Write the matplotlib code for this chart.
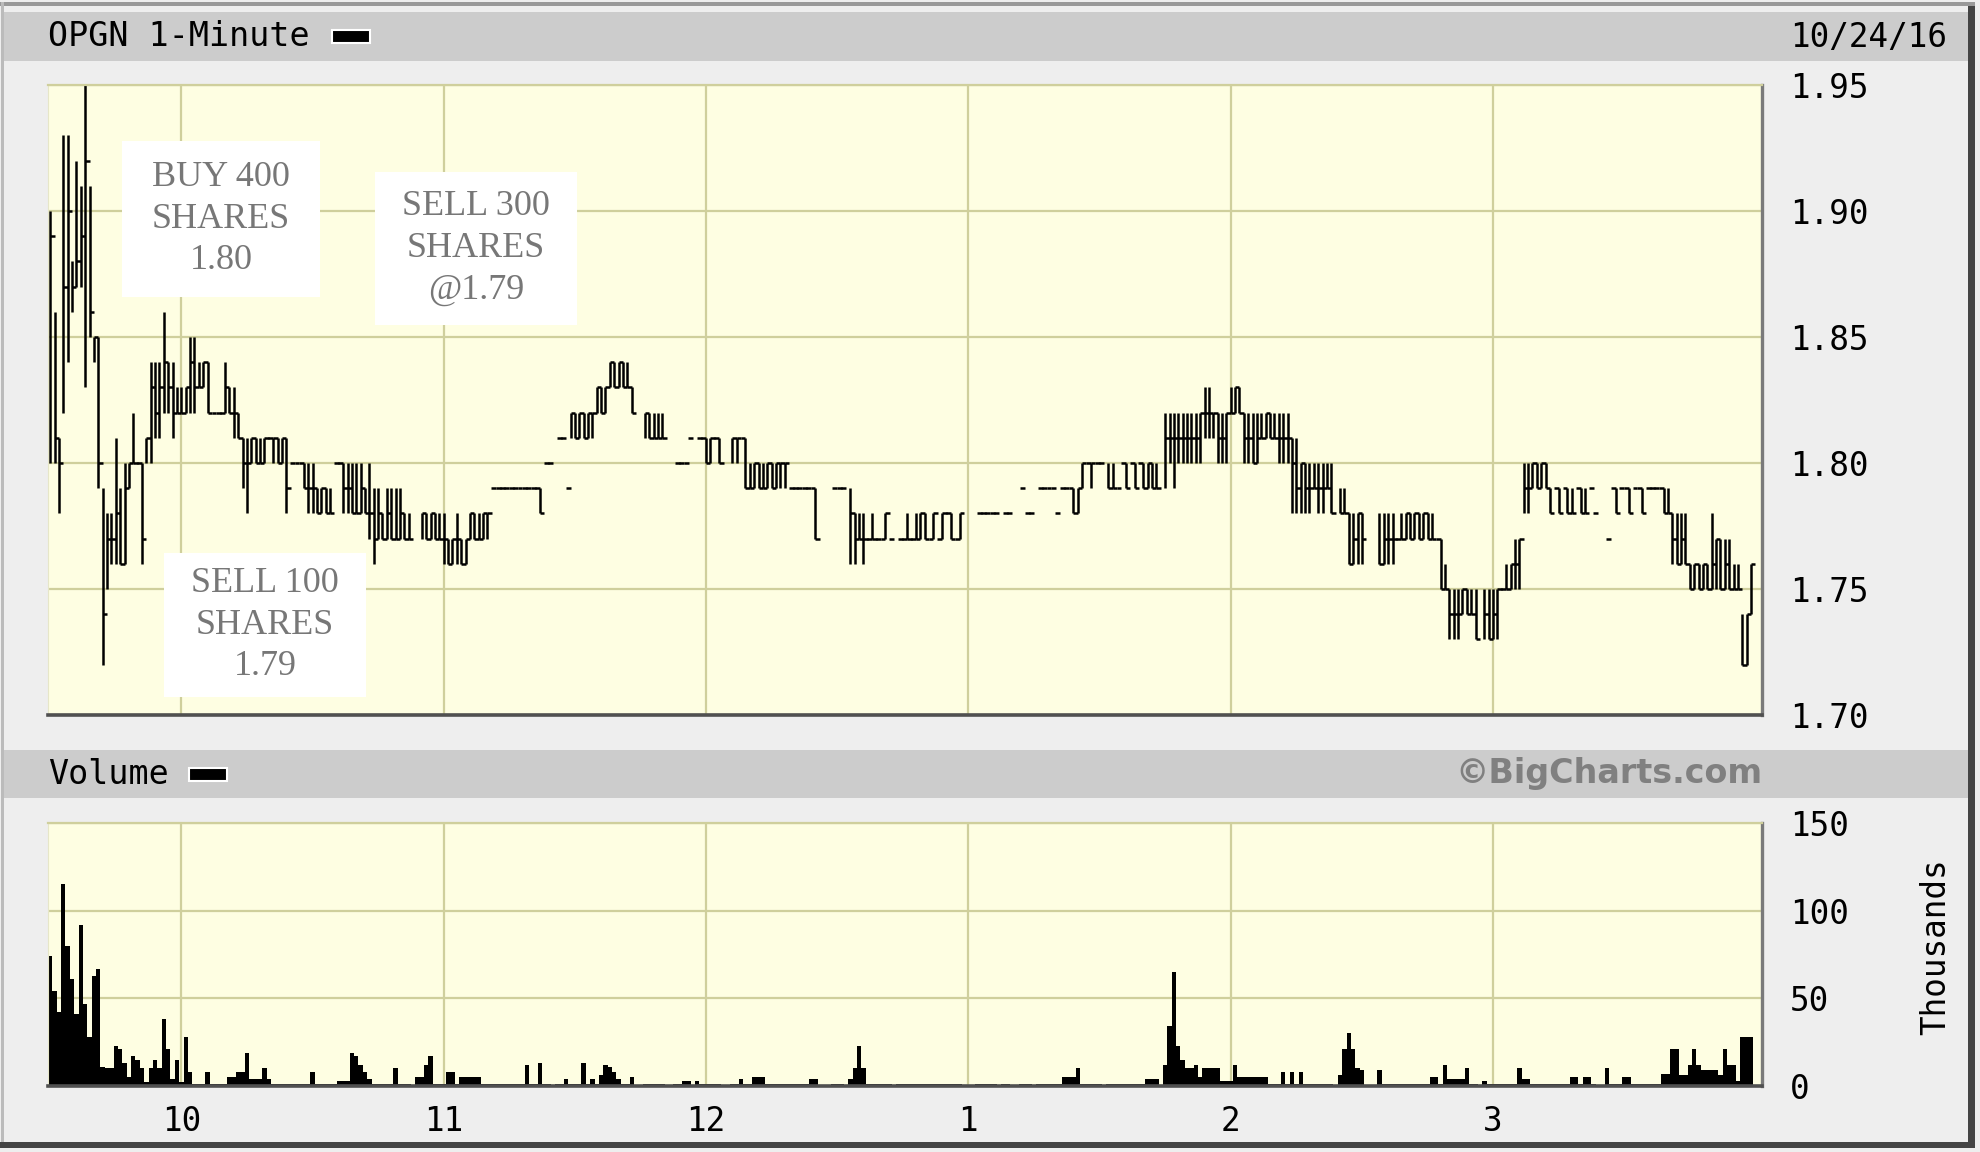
import matplotlib
matplotlib.use("Agg")
import matplotlib.pyplot as plt
from matplotlib.patches import Rectangle
from matplotlib.collections import LineCollection

# OPGN 1-minute bars, 9:30 .. 15:59, prices in cents (0 = no trade that minute)
high = [
    190,186,181,193,193,188,192,191,195,191, 185,185,179,178,178,181,179,180,180,182,
    180,180,181,184,184,184,186,184,184,183, 183,183,185,185,184,184,184,182,182,182,
    184,183,183,182,181,181,181,181,181,181, 181,181,181,181,181,180,180,180,180,180,
    180,179,179,179,179,180,180,180,180,180, 180,180,179,180,179,179,178,179,179,179,
    179,178,178,0,0,178,178,178,178,178, 178,177,177,178,177,177,178,178,178,178,
    178,179,179,179,179,179,179,179,179,179, 179,179,179,180,180,0,181,181,179,182,
    182,182,182,182,182,183,183,183,184,184, 184,184,184,183,0,0,182,182,182,182,
    182,0,0,180,180,180,181,0,181,181, 181,181,181,181,0,0,181,181,181,181,
    180,180,180,180,180,180,180,180,180,179, 179,179,179,179,179,179,0,0,0,179,
    179,179,0,179,178,178,178,177,178,177, 177,178,177,0,177,177,178,177,178,178,
    178,177,178,177,178,178,178,177,178,0, 0,0,178,178,178,178,178,0,178,178,
    0,0,179,178,178,0,179,179,179,179, 178,179,179,179,179,179,180,180,180,180,
    180,0,180,180,179,180,180,180,180,180, 180,180,180,180,0,182,182,182,182,182,
    182,182,182,182,183,183,182,182,182,182, 183,183,183,182,182,182,182,182,182,182,
    182,182,182,182,181,181,180,180,180,180, 180,180,180,180,0,179,179,178,178,178,
    178,0,0,0,178,178,178,178,177,178, 178,178,178,178,178,178,178,177,177,176,
    175,175,175,175,175,175,175,0,175,175, 175,175,175,176,176,177,177,180,180,180,
    180,180,180,179,179,179,179,179,179,179, 179,179,179,178,0,0,177,179,179,179,
    179,179,179,179,179,179,179,179,179,179, 179,178,178,178,178,176,176,176,176,176,
    178,177,177,177,177,176,176,174,174,176,
]
low = [
    180,180,178,182,184,186,187,187,183,185, 184,179,172,175,176,176,176,176,179,180,
    180,176,180,180,181,181,182,182,181,182, 182,182,182,182,183,183,182,182,182,182,
    182,182,181,181,179,178,180,180,180,180, 181,180,180,180,178,180,180,180,179,178,
    178,178,178,178,178,180,180,178,178,178, 178,178,178,177,176,177,177,177,177,177,
    177,177,177,0,0,177,177,177,177,177, 176,176,176,176,176,176,177,177,177,177,
    177,179,179,179,179,179,179,179,179,179, 179,179,178,180,180,0,181,181,179,181,
    181,181,181,181,181,182,182,182,183,183, 183,183,183,182,0,0,181,181,181,181,
    181,0,0,180,180,180,181,0,181,181, 180,180,181,180,0,0,180,180,181,179,
    179,179,179,179,179,179,179,179,179,179, 179,179,179,179,179,177,0,0,0,179,
    179,179,0,176,176,177,176,177,177,177, 177,177,177,0,177,177,177,177,177,177,
    177,177,177,177,177,178,177,177,177,0, 0,0,178,178,178,178,178,0,178,178,
    0,0,179,178,178,0,179,179,179,179, 178,179,179,179,178,178,179,180,179,180,
    180,0,179,179,179,180,179,180,179,180, 179,179,179,179,0,179,180,179,180,180,
    180,180,180,180,181,181,181,180,180,180, 182,182,182,180,180,180,180,181,181,181,
    181,180,180,180,178,178,178,178,178,179, 178,178,179,178,0,178,178,176,176,176,
    176,0,0,0,176,176,176,176,177,177, 177,177,177,177,177,177,177,177,175,175,
    173,173,173,174,174,174,173,0,173,173, 173,173,175,175,175,175,175,178,178,179,
    179,179,179,178,179,178,179,178,178,179, 178,178,179,178,0,0,177,179,178,179,
    179,178,179,179,178,179,179,179,179,178, 178,176,176,176,176,175,175,175,175,175,
    175,175,175,175,175,175,175,172,172,174,
]
close = [
    189,181,180,187,190,187,188,189,192,186, 185,180,174,177,177,178,176,179,180,180,
    180,177,181,183,182,183,184,183,182,182, 182,183,184,183,183,184,182,182,182,182,
    183,182,182,181,180,180,181,180,180,181, 181,181,180,181,179,180,180,180,179,179,
    179,178,179,178,178,180,180,179,179,178, 178,179,178,178,177,178,177,178,177,177,
    178,177,177,0,0,178,177,178,177,177, 177,176,177,177,176,177,178,177,177,178,
    178,179,179,179,179,179,179,179,179,179, 179,179,178,180,180,0,181,181,179,182,
    181,182,181,182,182,183,182,183,184,183, 184,183,183,182,0,0,182,181,181,181,
    181,0,0,180,180,180,181,0,181,181, 180,181,181,180,0,0,181,181,181,179,
    179,180,179,179,180,179,180,180,180,179, 179,179,179,179,179,177,0,0,0,179,
    179,179,0,178,177,177,177,177,177,177, 177,178,177,0,177,177,177,177,177,178,
    177,177,178,177,178,178,177,177,178,0, 0,0,178,178,178,178,178,0,178,178,
    0,0,179,178,178,0,179,179,179,179, 178,179,179,179,178,179,180,180,180,180,
    180,0,179,179,179,180,179,180,179,180, 179,180,179,179,0,181,181,181,181,181,
    181,181,181,182,182,182,182,181,181,182, 182,183,182,181,181,180,181,181,182,181,
    181,181,181,181,180,179,180,179,179,179, 179,179,179,178,0,178,178,176,177,178,
    177,0,0,0,176,177,177,177,177,177, 178,177,178,177,178,177,177,177,175,175,
    174,174,174,175,174,174,173,0,174,173, 174,175,175,175,176,176,177,179,179,180,
    179,180,179,178,179,178,179,178,178,179, 178,178,179,178,0,0,177,179,178,179,
    179,178,179,179,178,179,179,179,179,178, 178,177,176,177,176,175,176,175,176,175,
    176,177,175,176,175,175,175,172,174,176,
]
# volume per minute, thousands of shares
volume = [
    74,54,42,115,80,61,41,92,47,28, 63,67,11,10,10,23,21,13,5,17,
    15,10,2,10,15,10,38,21,4,15, 2,28,8,1,1,1,8,1,1,1,
    1,5,5,8,8,19,4,4,4,10, 4,1,1,1,1,1,1,1,1,1,
    8,1,1,1,1,1,3,3,3,19, 17,12,8,4,1,1,1,1,1,10,
    1,1,1,0,5,5,12,17,1,1, 1,8,8,1,5,5,5,5,5,1,
    1,1,1,1,1,1,1,1,1,12, 1,1,13,1,1,0,1,1,4,1,
    1,1,13,1,4,1,6,12,11,8, 4,1,1,5,0,0,1,1,1,1,
    1,0,0,1,1,3,3,0,3,1, 1,1,1,1,0,0,1,1,4,1,
    1,5,5,5,1,1,1,1,1,1, 1,1,1,1,4,4,0,0,0,1,
    1,1,0,4,10,23,10,1,1,1, 1,1,1,0,1,1,1,1,1,1,
    1,1,1,1,1,1,1,1,1,0, 0,0,1,1,1,1,1,0,1,1,
    0,0,1,1,1,0,1,1,1,1, 1,1,5,5,5,10,1,1,1,1,
    1,0,1,1,1,1,1,1,1,1, 1,4,4,4,0,12,34,65,23,15,
    10,10,12,5,10,10,10,10,3,3, 3,12,5,5,5,5,5,5,5,1,
    1,1,8,1,8,1,8,1,1,1, 1,1,1,1,0,6,21,30,21,10,
    9,0,0,0,9,1,1,1,1,1, 1,1,1,1,1,1,5,5,1,12,
    4,4,4,4,10,1,1,0,3,1, 1,1,1,1,1,1,10,4,4,1,
    1,1,1,1,1,1,1,1,5,5, 1,5,5,1,0,0,10,1,1,1,
    5,5,1,1,1,1,1,1,1,7, 7,21,21,6,6,12,21,12,9,9,
    9,9,6,21,12,12,3,28,28,28,
]
hour_ticks = [30, 90, 150, 210, 270, 330]
hour_labels = ['10', '11', '12', '1', '2', '3']
price_ticks = [170, 175, 180, 185, 190, 195]
vol_ticks = [0, 50, 100, 150]
notes = ["BUY 400\nSHARES\n1.80", "SELL 300\nSHARES\n@1.79", "SELL 100\nSHARES\n1.79"]

W, H = 1980, 1152
mono = 'DejaVu Sans Mono'
grid_c = '#CFCF9C'
plot_bg = '#FEFEE2'
fs = 23.5

fig = plt.figure(figsize=(W / 100, H / 100), dpi=100, facecolor='#EEEEEE')

def fx(x):
    return x / W

def fy(y):
    return 1 - y / H

def box(x0, y0, x1, y1, **kw):
    r = Rectangle((fx(x0), fy(y1)), fx(x1) - fx(x0), fy(y0) - fy(y1),
                  transform=fig.transFigure, **kw)
    fig.add_artist(r)

# frame and header bars
box(0, 2, 1975, 6, fc='#999999', ec='none')
box(1, 2, 4, 1148, fc='#BBBBBB', ec='none')
box(1968, 6, 1975, 1148, fc='#444444', ec='none')
box(0, 1142, 1975, 1148, fc='#444444', ec='none')
box(4, 12, 1968, 61, fc='#CCCCCC', ec='none')
box(4, 750, 1968, 798, fc='#CCCCCC', ec='none')

left, right = 48, 1762
ax = fig.add_axes([fx(left), fy(715), fx(right) - fx(left), fy(85) - fy(715)])
axv = fig.add_axes([fx(left), fy(1086), fx(right) - fx(left), fy(823) - fy(1086)])

for a in (ax, axv):
    a.set_facecolor(plot_bg)
    a.set_xlim(-0.5, 391.5)
    a.set_xticks(hour_ticks)
    a.grid(True, color=grid_c, lw=1.6, zorder=0)
    a.set_axisbelow(True)
    a.yaxis.tick_right()
    a.tick_params(axis='y', length=0, pad=20, labelsize=fs)
    a.tick_params(axis='x', length=0)
    a.spines['top'].set_color(grid_c)
    a.spines['top'].set_linewidth(1.6)
    a.spines['left'].set_color('#E6E6C8')
    a.spines['right'].set_color('#7A7A7A')
    a.spines['right'].set_linewidth(2.4)
    a.spines['bottom'].set_color('#505050')
    a.spines['bottom'].set_linewidth(2.6)

# price bars: high-low line, close tick running to the next minute
segs = []
for m in range(len(high)):
    if high[m] == 0:
        continue
    if high[m] == low[m]:
        segs.append([(m - 0.1, high[m]), (m + 1.0, high[m])])
    else:
        segs.append([(m, low[m]), (m, high[m])])
        segs.append([(m, close[m]), (m + 1.0, close[m])])
ax.add_collection(LineCollection(segs, colors='black', linewidths=1.8, capstyle='butt'))
ax.set_ylim(170, 195)
ax.set_yticks(price_ticks)
ax.set_yticklabels(['%.2f' % (v / 100) for v in price_ticks], family=mono)
ax.set_xticklabels([])

axv.bar(range(len(volume)), volume, width=1.0, color='black', zorder=2)
axv.set_ylim(0, 150)
axv.set_yticks(vol_ticks)
axv.set_yticklabels([str(v) for v in vol_ticks], family=mono)
axv.set_xticklabels(hour_labels, family=mono, fontsize=fs)
axv.tick_params(axis='x', pad=14)

# header texts
fig.text(fx(48), fy(37), 'OPGN 1-Minute', family=mono, fontsize=24, va='center', ha='left')
box(332, 30, 370, 43, fc='black', ec='white', lw=1.5)
fig.text(fx(1790), fy(37), '10/24/16', family=mono, fontsize=fs, va='center', ha='left')
fig.text(fx(48), fy(774), 'Volume', family=mono, fontsize=24, va='center', ha='left')
box(189, 768, 227, 781, fc='black', ec='white', lw=1.5)
fig.text(fx(1762), fy(774), '\u00a9BigCharts.com', family='DejaVu Sans', fontsize=24,
         fontweight='bold', color='#808080', va='center', ha='right')
fig.text(fx(1936), fy(947), 'Thousands', family=mono, fontsize=fs, rotation=90,
         va='center', ha='center')

# trade notes
note_boxes = [(122, 141, 320, 297), (375, 172, 577, 325), (164, 553, 366, 697)]
for (x0, y0, x1, y1), txt in zip(note_boxes, notes):
    box(x0, y0, x1, y1, fc='white', ec='none')
    fig.text(fx((x0 + x1) / 2), fy((y0 + y1) / 2), txt, family='Liberation Serif',
             fontsize=26, color='#777777', ha='center', va='center',
             linespacing=1.35, multialignment='center')

fig.savefig('out.png', dpi=100, facecolor=fig.get_facecolor())
